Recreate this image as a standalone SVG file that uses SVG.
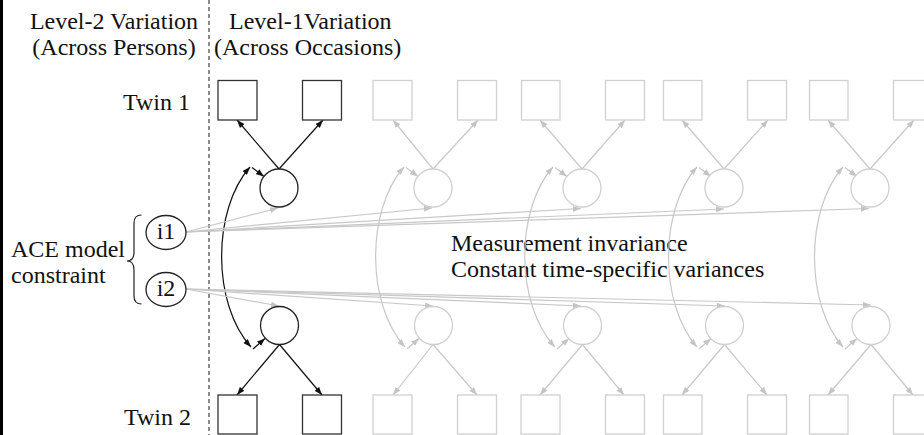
<svg xmlns="http://www.w3.org/2000/svg" width="924" height="435" viewBox="0 0 924 435">
  <style>
    text { font-family: "Liberation Serif", "Times New Roman", serif; font-size: 24px; fill: #111; }
    .box { fill: #fff; stroke: #333; stroke-width: 1.3; }
    .lat { fill: #fff; stroke: #222; stroke-width: 1.3; }
    .gbox { fill: #fff; stroke: #d0d0d0; stroke-width: 1.3; }
    .glat { fill: #fff; stroke: #d0d0d0; stroke-width: 1.3; }
    .arr { fill: none; stroke: #111; stroke-width: 1.2; marker-end: url(#ah); }
    .garr { fill: none; stroke: #c8c8c8; stroke-width: 1.2; marker-end: url(#gah); }
    .cov { fill: none; stroke: #111; stroke-width: 1.2; marker-start: url(#ah); marker-end: url(#ah); }
    .gcov { fill: none; stroke: #c8c8c8; stroke-width: 1.2; marker-start: url(#gah); marker-end: url(#gah); }
  </style>
  <defs>
    <marker id="ah" markerUnits="userSpaceOnUse" markerWidth="9" markerHeight="6" refX="8" refY="3" orient="auto-start-reverse">
      <path d="M0,0 L8,3 L0,6 z" fill="#111"/>
    </marker>
    <marker id="gah" markerUnits="userSpaceOnUse" markerWidth="9" markerHeight="6" refX="8" refY="3" orient="auto-start-reverse">
      <path d="M0,0 L8,3 L0,6 z" fill="#c4c4c4"/>
    </marker>
  </defs>

  <!-- frame and level divider -->
  <rect x="0" y="0" width="3" height="435" fill="#000"/>
  <line x1="209" y1="0" x2="209" y2="435" stroke="#666" stroke-width="1.5" stroke-dasharray="4 3"/>

  <!-- headings -->
  <text x="114" y="29" text-anchor="middle">Level-2 Variation</text>
  <text x="114" y="55" text-anchor="middle">(Across Persons)</text>
  <text x="229" y="29">Level-1Variation</text>
  <text x="214" y="55">(Across Occasions)</text>
  <text x="190" y="110" text-anchor="end">Twin 1</text>
  <text x="191" y="425" text-anchor="end">Twin 2</text>
  <text x="11" y="257">ACE model</text>
  <text x="11" y="283">constraint</text>
  <text x="451" y="251">Measurement invariance</text>
  <text x="451" y="277">Constant time-specific variances</text>

  <!-- brace grouping the ACE intercepts -->
  <path d="M141.5,215 Q134,215 134,223 L134,252 Q134,261 127,261 Q134,261 134,270 L134,296 Q134,304 141.5,304" fill="none" stroke="#222" stroke-width="1.2"/>

  <!-- connectors -->
  <g id="connectors">
    <!-- occasion 1 (black) -->
    <path class="arr" d="M279,169 L237,120"/>
    <path class="arr" d="M279,169 L323,120"/>
    <path class="arr" d="M279.5,344.5 L237,395"/>
    <path class="arr" d="M279.5,344.5 L322,395"/>
    <path class="cov" d="M250,167 C212,210 212,304 251,347"/>
    <path class="arr" d="M252,167.5 L264,176.5"/>
    <path class="arr" d="M253,349 L265,338.5"/>
    <!-- occasion 2 -->
    <path class="garr" d="M433,169 L393,120"/>
    <path class="garr" d="M433,169 L478,120"/>
    <path class="garr" d="M433,344.5 L393,395"/>
    <path class="garr" d="M433,344.5 L477,395"/>
    <path class="gcov" d="M404,167 C366,210 366,304 405,347"/>
    <path class="garr" d="M406,167.5 L418,176.5"/>
    <path class="garr" d="M407,349 L419,338.5"/>
    <!-- occasion 3 -->
    <path class="garr" d="M582,169 L540,120"/>
    <path class="garr" d="M582,169 L625,120"/>
    <path class="garr" d="M582.5,344.5 L540,395"/>
    <path class="garr" d="M582.5,344.5 L624,395"/>
    <path class="gcov" d="M553,167 C515,210 515,304 555,347"/>
    <path class="garr" d="M555,167.5 L567,176.5"/>
    <path class="garr" d="M557,349 L569,338.5"/>
    <!-- occasion 4 -->
    <path class="garr" d="M724,169 L682,120"/>
    <path class="garr" d="M724,169 L768,120"/>
    <path class="garr" d="M724.5,344.5 L682,395"/>
    <path class="garr" d="M724.5,344.5 L767,395"/>
    <path class="gcov" d="M697,167 C659,210 659,304 697,347"/>
    <path class="garr" d="M699,167.5 L711,176.5"/>
    <path class="garr" d="M699,349 L711,338.5"/>
    <!-- occasion 5 -->
    <path class="garr" d="M870,169 L828,120"/>
    <path class="garr" d="M870,169 L914,120"/>
    <path class="garr" d="M871,344.5 L828,395"/>
    <path class="garr" d="M871,344.5 L913,395"/>
    <path class="gcov" d="M843,167 C805,210 805,304 843,347"/>
    <path class="garr" d="M845,167.5 L857,176.5"/>
    <path class="garr" d="M845,349 L857,338.5"/>
    <!-- i1 to twin-1 occasion factors -->
    <path class="garr" d="M186,232 L278,208"/>
    <path class="garr" d="M186,232 L432,208"/>
    <path class="garr" d="M186,232 L581,208.5"/>
    <path class="garr" d="M186,232 L724,209"/>
    <path class="garr" d="M186,232 L869,208.5"/>
    <!-- i2 to twin-2 occasion factors -->
    <path class="garr" d="M186,289 L279,306"/>
    <path class="garr" d="M186,289 L433,306"/>
    <path class="garr" d="M186,289 L581,306"/>
    <path class="garr" d="M186,289 L725,306"/>
    <path class="garr" d="M186,289 L871,305"/>
  </g>

  <!-- intercept factors -->
  <g id="i1">
    <ellipse cx="166" cy="232.5" rx="20" ry="17" class="lat"/>
    <text x="166" y="239" text-anchor="middle">i1</text>
  </g>
  <g id="i2">
    <ellipse cx="166" cy="289.5" rx="20" ry="17" class="lat"/>
    <text x="166" y="296" text-anchor="middle">i2</text>
  </g>

  <!-- occasion 1 -->
  <g id="t1-y1"><rect class="box" x="218" y="80.5" width="39" height="39.5"/></g>
  <g id="t1-y2"><rect class="box" x="302.5" y="80.5" width="39" height="39.5"/></g>
  <g id="t1-f1"><circle class="lat" cx="279" cy="188" r="19"/></g>
  <g id="t2-f1"><circle class="lat" cx="279.5" cy="325.5" r="19"/></g>
  <g id="t2-y1"><rect class="box" x="218" y="395" width="39" height="39"/></g>
  <g id="t2-y2"><rect class="box" x="302.5" y="395" width="39" height="39"/></g>

  <!-- occasion 2 -->
  <g id="t1-y3"><rect class="gbox" x="373" y="80.5" width="39" height="39.5"/></g>
  <g id="t1-y4"><rect class="gbox" x="457.5" y="80.5" width="39" height="39.5"/></g>
  <g id="t1-f2"><circle class="glat" cx="433" cy="188" r="19"/></g>
  <g id="t2-f2"><circle class="glat" cx="433.5" cy="325.5" r="19"/></g>
  <g id="t2-y3"><rect class="gbox" x="373" y="395" width="39" height="39"/></g>
  <g id="t2-y4"><rect class="gbox" x="457.5" y="395" width="39" height="39"/></g>

  <!-- occasion 3 -->
  <g id="t1-y5"><rect class="gbox" x="521.5" y="80.5" width="38.5" height="39.5"/></g>
  <g id="t1-y6"><rect class="gbox" x="605.5" y="80.5" width="39" height="39.5"/></g>
  <g id="t1-f3"><circle class="glat" cx="582" cy="188" r="19"/></g>
  <g id="t2-f3"><circle class="glat" cx="582.5" cy="325.5" r="19"/></g>
  <g id="t2-y5"><rect class="gbox" x="521" y="395" width="39" height="39"/></g>
  <g id="t2-y6"><rect class="gbox" x="605.5" y="395" width="39" height="39"/></g>

  <!-- occasion 4 -->
  <g id="t1-y7"><rect class="gbox" x="663.5" y="80.5" width="38.5" height="39.5"/></g>
  <g id="t1-y8"><rect class="gbox" x="747.5" y="80.5" width="39" height="39.5"/></g>
  <g id="t1-f4"><circle class="glat" cx="724" cy="188" r="19"/></g>
  <g id="t2-f4"><circle class="glat" cx="724.5" cy="325.5" r="19"/></g>
  <g id="t2-y7"><rect class="gbox" x="663.5" y="395" width="38.5" height="39"/></g>
  <g id="t2-y8"><rect class="gbox" x="747.5" y="395" width="39" height="39"/></g>

  <!-- occasion 5 -->
  <g id="t1-y9"><rect class="gbox" x="809.5" y="80.5" width="38.5" height="39.5"/></g>
  <g id="t1-y10"><rect class="gbox" x="893.5" y="80.5" width="39" height="39.5"/></g>
  <g id="t1-f5"><circle class="glat" cx="870" cy="188" r="19"/></g>
  <g id="t2-f5"><circle class="glat" cx="871" cy="325.5" r="19"/></g>
  <g id="t2-y9"><rect class="gbox" x="809.5" y="395" width="38.5" height="39"/></g>
  <g id="t2-y10"><rect class="gbox" x="893.5" y="395" width="39" height="39"/></g>
</svg>
